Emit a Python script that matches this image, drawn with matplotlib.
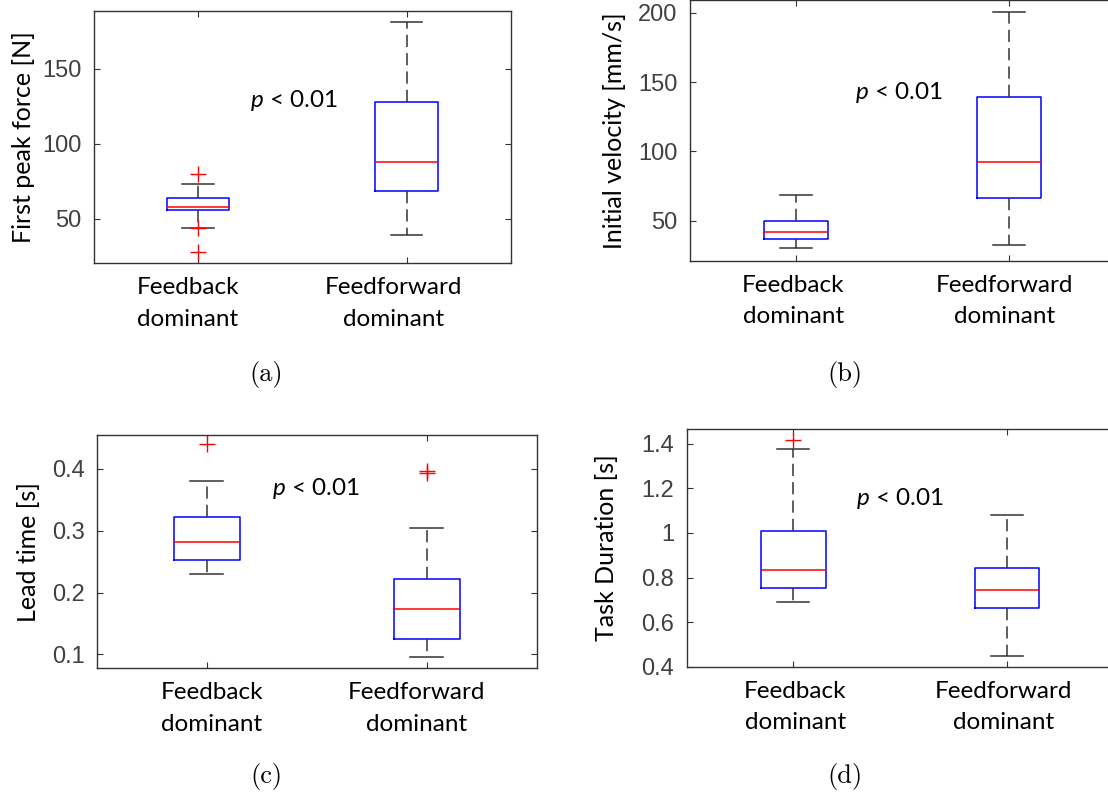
import matplotlib
matplotlib.use('Agg')
import matplotlib.pyplot as plt
from matplotlib.transforms import ScaledTranslation
from matplotlib.ticker import FormatStrFormatter

plt.rcParams['font.family'] = ['Lato', 'DejaVu Sans']
plt.rcParams['mathtext.fontset'] = 'custom'
plt.rcParams['mathtext.it'] = 'Lato:italic'
plt.rcParams['mathtext.rm'] = 'Lato'

categories = ['Feedback\ndominant', 'Feedforward\ndominant']

# (a) first peak force [N]
force_q1 = [56.0, 68.5]
force_med = [57.8, 87.8]
force_q3 = [64.2, 127.7]
force_lo = [43.9, 39.4]
force_hi = [73.5, 181.0]
force_out = [[80.0, 43.8, 27.9], []]

# (b) initial velocity [mm/s]
vel_q1 = [37.0, 66.1]
vel_med = [41.9, 92.0]
vel_q3 = [50.0, 139.5]
vel_lo = [30.1, 32.5]
vel_hi = [68.7, 200.7]
vel_out = [[], []]

# (c) lead time [s]
lead_q1 = [0.2532, 0.1243]
lead_med = [0.2818, 0.1729]
lead_q3 = [0.3228, 0.2214]
lead_lo = [0.230, 0.0961]
lead_hi = [0.380, 0.305]
lead_out = [[0.440], [0.397, 0.394]]

# (d) task duration [s]
dur_q1 = [0.7516, 0.662]
dur_med = [0.835, 0.7426]
dur_q3 = [1.0085, 0.844]
dur_lo = [0.6915, 0.449]
dur_hi = [1.376, 1.079]
dur_out = [[1.415], []]

W, H = 1108, 793


def make_stats(q1, med, q3, lo, hi, out):
    """Build the list of dicts that bxp wants."""
    return [dict(q1=a, med=b, q3=c, whislo=d, whishi=e, fliers=f)
            for a, b, c, d, e, f in zip(q1, med, q3, lo, hi, out)]


def draw_panel(rect, stats, ylim, yticks, ylabel, ptext, label_x, tick_shift, fmt):
    """One MATLAB-looking boxplot panel."""
    l, t, r, b = rect
    ax = fig.add_axes([l / W, 1 - b / H, (r - l) / W, (b - t) / H])
    ax.bxp(stats, positions=[1, 2], widths=0.3, capwidths=0.15,
           manage_ticks=False,
           boxprops=dict(color='#0000ff', linewidth=1.1),
           medianprops=dict(color='#ff0000', linewidth=1.1),
           whiskerprops=dict(color='#333333', linewidth=1.1, dashes=(8, 4)),
           capprops=dict(color='#333333', linewidth=1.1),
           flierprops=dict(marker='+', markeredgecolor='#ff0000',
                           markersize=12, markeredgewidth=1.0,
                           linestyle='none'))
    ax.set_xlim(0.5, 2.5)
    ax.set_ylim(*ylim)
    ax.set_xticks([1, 2])
    ax.set_xticklabels(categories, fontsize=17.5, color='black', linespacing=1.62)
    ax.set_yticks(yticks)
    ax.yaxis.set_major_formatter(FormatStrFormatter(fmt))
    for lab in ax.get_yticklabels():
        lab.set_family('Liberation Sans')
        lab.set_fontsize(17)
        lab.set_color('#404040')
    ax.tick_params(direction='in', top=True, right=True, length=4.5,
                   width=0.8, color='#333333')
    ax.tick_params(axis='y', pad=9)
    ax.tick_params(axis='x', pad=10)
    for s in ax.spines.values():
        s.set_color('#333333')
        s.set_linewidth(1.0)
    for lab, dx in zip(ax.get_xticklabels(), tick_shift):
        lab.set_transform(lab.get_transform() +
                          ScaledTranslation(dx / 100, 0, fig.dpi_scale_trans))
    ax.set_ylabel(ylabel, fontsize=18, color='black')
    ax.yaxis.label.set_verticalalignment('center')
    ax.yaxis.set_label_coords((label_x - l) / (r - l), 0.5)
    ax.text(ptext[0], ptext[1], r'$p$ < 0.01', fontsize=17.5,
            ha='left', va='center', color='black')
    return ax


fig = plt.figure(figsize=(W / 100, H / 100), dpi=100)

draw_panel((93.7, 11, 511, 263.3),
           make_stats(force_q1, force_med, force_q3, force_lo, force_hi, force_out),
           (20.5, 188.4), [50, 100, 150], 'First peak force [N]',
           (1.247, 128.7), 23.3, (-10, -13), '%g')
draw_panel((689.7, 0.3, 1115.7, 260.7),
           make_stats(vel_q1, vel_med, vel_q3, vel_lo, vel_hi, vel_out),
           (21.2, 208.9), [50, 100, 150, 200], 'Initial velocity [mm/s]',
           (1.276, 142.3), 614, (-3, -5), '%g')
draw_panel((96.9, 435, 536.5, 668.3),
           make_stats(lead_q1, lead_med, lead_q3, lead_lo, lead_hi, lead_out),
           (0.0773, 0.455), [0.1, 0.2, 0.3, 0.4], 'Lead time [s]',
           (1.296, 0.369), 28.3, (5, -10), '%g')
draw_panel((686.5, 429.3, 1114.3, 666.7),
           make_stats(dur_q1, dur_med, dur_q3, dur_lo, dur_hi, dur_out),
           (0.4, 1.4646), [0.4, 0.6, 0.8, 1.0, 1.2, 1.4], 'Task Duration [s]',
           (1.293, 1.1556), 607, (2, -4), '%g')

for cap, (px, py) in zip(['(a)', '(b)', '(c)', '(d)'],
                         [(266, 375), (845, 375), (266, 776.7), (845, 776.7)]):
    fig.text(px / W, 1 - py / H, cap, family='cmr10', fontsize=19,
             ha='center', va='center')

fig.savefig('out.png', dpi=100)
